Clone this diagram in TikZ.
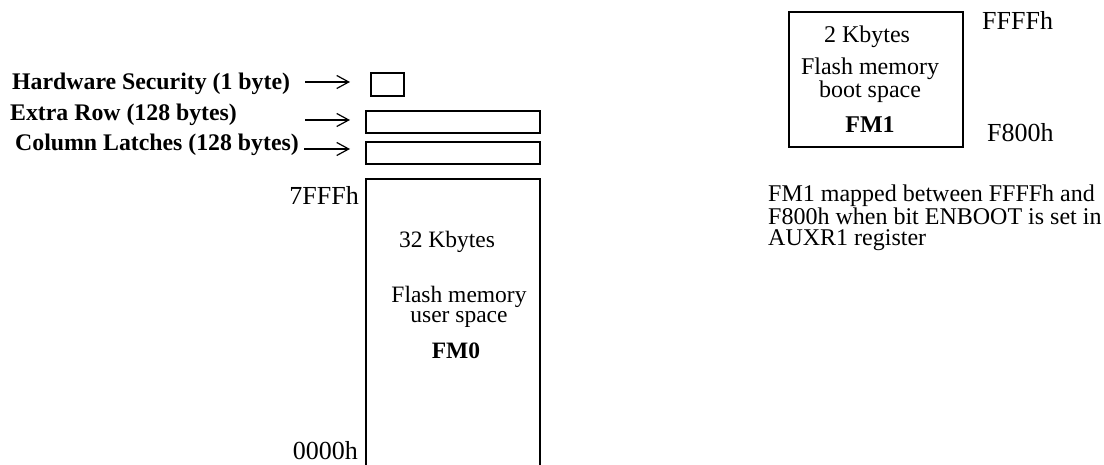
\documentclass[tikz,border=0pt]{standalone}
\usepackage{fontspec}
\setmainfont{Liberation Serif}
\usetikzlibrary{arrows.meta}
\begin{document}
\begin{tikzpicture}[x=1pt,y=-1pt,
  lbl/.style={font=\fontsize{23.8}{24}\selectfont\bfseries, inner sep=0pt, anchor=base west},
  txt/.style={font=\fontsize{24}{23}\selectfont, inner sep=0pt},
  addr/.style={font=\fontsize{26}{26}\selectfont, inner sep=0pt},
  mem/.style={draw, line width=1.6pt, inner sep=0pt},
  arr/.style={-{Straight Barb[length=12pt,width=13pt]}, line width=1.2pt}]
\useasboundingbox (0,0) rectangle (1104,465);

% left labels
\node[lbl] (hslbl) at (12,90) {Hardware Security (1 byte)};
\node[lbl] (erlbl) at (10,121) {Extra Row (128 bytes)};
\node[lbl] (cllbl) at (15,151) {Column Latches (128 bytes)};

% small boxes
\node[mem, minimum width=33pt, minimum height=23pt] (hsbox) at (387.5,84.5) {};
\node[mem, minimum width=174pt, minimum height=22pt] (erbox) at (453,122) {};
\node[mem, minimum width=174pt, minimum height=22pt] (clbox) at (453,153) {};

% arrows
\coordinate (hsS) at (305,82);  \coordinate (hsE) at (350,82);
\coordinate (erS) at (305,120); \coordinate (erE) at (350,120);
\coordinate (clS) at (304,149); \coordinate (clE) at (350,149);
\draw[arr] (hsS) -- (hsE);
\draw[arr] (erS) -- (erE);
\draw[arr] (clS) -- (clE);

% FM0 block (open at bottom)
\coordinate (fm0bl) at (366,467);
\coordinate (fm0tl) at (366,179);
\coordinate (fm0tr) at (540,179);
\coordinate (fm0br) at (540,467);
\draw[line width=1.6pt] (fm0bl) -- (fm0tl) -- (fm0tr) -- (fm0br);

\node[addr, anchor=base east] (a7fff) at (359,205) {7FFFh};
\node[addr, anchor=base east] (a0000) at (358,459) {0000h};

\node[txt, font=\fontsize{23.5}{20}\selectfont, anchor=base] (k32) at (447,248) {32 Kbytes};
\node[txt, font=\fontsize{23.5}{20}\selectfont, anchor=north, align=center] (fm0txt) at (459,286) {Flash memory\\user space};
\node[txt, font=\fontsize{23.5}{20}\selectfont\bfseries, anchor=base] (fm0) at (456,358) {FM0};

% FM1 block
\node[mem, minimum width=174pt, minimum height=135pt] (fm1box) at (876,79.5) {};
\node[txt, anchor=base] (k2) at (867,43) {2 Kbytes};
\node[txt, anchor=north, align=center] (fm1txt) at (870,57.6) {Flash memory\\boot space};
\node[txt, font=\fontsize{24}{23}\selectfont\bfseries, anchor=base] (fm1) at (870,133) {FM1};

\node[addr, anchor=base west] (affff) at (982,30) {FFFFh};
\node[addr, anchor=base west] (af800) at (987,142) {F800h};

% note
\node[txt, font=\fontsize{24}{21}\selectfont, anchor=north west, align=left] (note) at (768,184.6)
  {FM1 mapped between FFFFh and\\F800h when bit ENBOOT is set in\\AUXR1 register};
\end{tikzpicture}
\end{document}
